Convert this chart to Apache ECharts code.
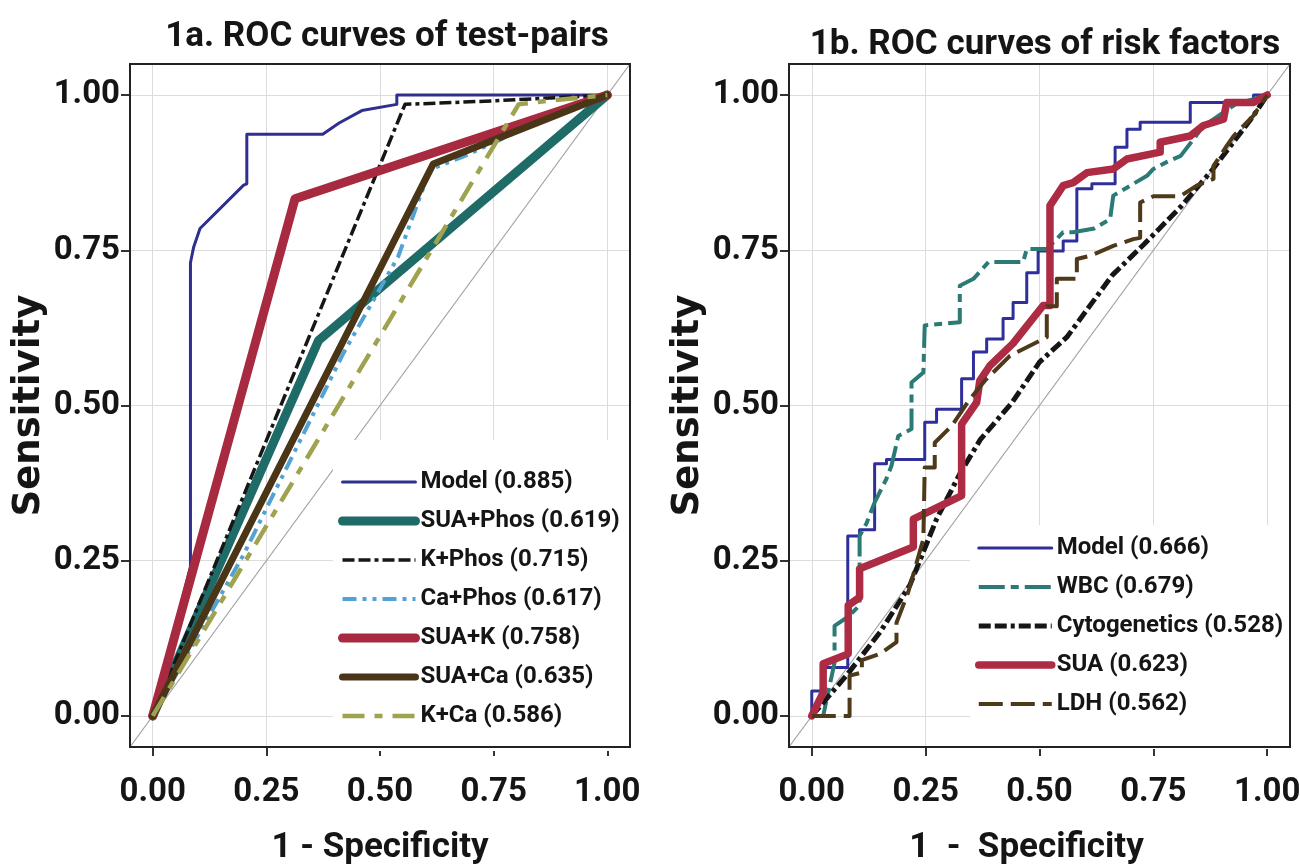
<!DOCTYPE html>
<html>
<head>
<meta charset="utf-8">
<script src="https://cdn.jsdelivr.net/npm/echarts@6/dist/echarts.min.js"></script>
<style>
  html, body { margin: 0; padding: 0; background: #fff; }
  #main { width: 1300px; height: 867px; }
</style>
</head>
<body>
<div id="main"></div>
<script>
// tick positions shared by both panels
const TICKS = [0, 0.25, 0.5, 0.75, 1];

// 1a. test-pairs  ([1 - specificity, sensitivity])
const namesA = ['Model (0.885)', 'SUA+Phos (0.619)', 'K+Phos (0.715)', 'Ca+Phos (0.617)',
  'SUA+K (0.758)', 'SUA+Ca (0.635)', 'K+Ca (0.586)'];
const modelA = [[0,0],[0.083,0.24],[0.083,0.73],[0.09,0.755],[0.104,0.785],[0.2,0.855],[0.207,0.857],
  [0.207,0.937],[0.374,0.937],[0.41,0.955],[0.46,0.975],[0.537,0.985],[0.537,1],[1,1]];
const suaPhosA = [[0,0],[0.365,0.605],[1,1]];
const kPhosA = [[0,0],[0.555,0.985],[0.73,0.99],[1,1]];
const caPhosA = [[0,0],[0.2,0.26],[0.42,0.585],[0.54,0.74],[0.61,0.88],[0.68,0.9],[0.8,0.94],[1,1]];
const suaKA = [[0,0],[0.313,0.833],[1,1]];
const suaCaA = [[0,0],[0.617,0.889],[1,1]];
const kCaA = [[0,0],[0.805,0.985],[0.86,0.99],[1,1]];

// 1b. risk factors
const namesB = ['Model (0.666)', 'WBC (0.679)', 'Cytogenetics (0.528)', 'SUA (0.623)', 'LDH (0.562)'];
const modelB = [[0,0],[0,0.04],[0.025,0.04],[0.025,0.078],[0.079,0.078],[0.079,0.29],[0.105,0.29],[0.105,0.3],
  [0.138,0.3],[0.138,0.406],[0.164,0.406],[0.164,0.413],[0.248,0.413],[0.248,0.473],[0.274,0.473],[0.274,0.494],
  [0.329,0.494],[0.329,0.543],[0.355,0.543],[0.355,0.586],[0.384,0.586],[0.384,0.607],[0.42,0.607],[0.42,0.64],
  [0.442,0.64],[0.442,0.666],[0.472,0.666],[0.472,0.714],[0.497,0.714],[0.497,0.749],[0.552,0.749],[0.552,0.765],
  [0.582,0.765],[0.582,0.849],[0.615,0.849],[0.615,0.857],[0.666,0.857],[0.666,0.916],[0.692,0.916],[0.692,0.945],
  [0.721,0.945],[0.721,0.956],[0.831,0.956],[0.831,0.988],[0.97,0.988],[0.97,1],[1,1]];
const wbcB = [[0,0],[0.025,0],[0.05,0.086],[0.05,0.145],[0.08,0.16],[0.105,0.178],[0.105,0.29],[0.12,0.31],
  [0.138,0.344],[0.164,0.382],[0.175,0.403],[0.19,0.451],[0.219,0.462],[0.219,0.537],[0.245,0.553],[0.248,0.629],
  [0.325,0.634],[0.325,0.693],[0.355,0.704],[0.388,0.731],[0.464,0.731],[0.472,0.752],[0.516,0.752],[0.552,0.779],
  [0.574,0.779],[0.62,0.785],[0.655,0.8],[0.662,0.838],[0.699,0.854],[0.736,0.87],[0.75,0.881],[0.779,0.892],
  [0.81,0.902],[0.86,0.95],[0.93,0.985],[1,1]];
const cytoB = [[0,0],[0.076,0.065],[0.15,0.135],[0.215,0.21],[0.274,0.317],[0.325,0.39],[0.37,0.445],[0.44,0.505],
  [0.5,0.57],[0.56,0.61],[0.66,0.71],[0.73,0.76],[0.81,0.82],[0.88,0.88],[0.97,0.967],[1,1]];
const suaB = [[0,0],[0.025,0.038],[0.025,0.084],[0.08,0.1],[0.08,0.178],[0.105,0.191],[0.105,0.237],[0.223,0.272],
  [0.223,0.317],[0.329,0.355],[0.329,0.47],[0.362,0.505],[0.369,0.54],[0.391,0.564],[0.442,0.6],[0.508,0.661],
  [0.523,0.661],[0.523,0.822],[0.552,0.854],[0.574,0.859],[0.604,0.875],[0.662,0.881],[0.692,0.897],[0.765,0.908],
  [0.765,0.924],[0.831,0.934],[0.86,0.951],[0.904,0.961],[0.911,0.988],[0.97,0.988],[1,1]];
const ldhB = [[0,0],[0.083,0],[0.083,0.065],[0.11,0.07],[0.11,0.09],[0.15,0.1],[0.186,0.119],[0.186,0.15],
  [0.212,0.2],[0.245,0.285],[0.248,0.4],[0.27,0.4],[0.27,0.44],[0.307,0.467],[0.347,0.51],[0.38,0.54],[0.435,0.58],
  [0.516,0.61],[0.516,0.66],[0.538,0.66],[0.538,0.704],[0.582,0.704],[0.582,0.736],[0.611,0.741],[0.662,0.757],
  [0.706,0.768],[0.721,0.77],[0.721,0.827],[0.75,0.837],[0.809,0.837],[0.845,0.854],[0.882,0.865],[0.882,0.886],
  [0.911,0.918],[0.926,0.934],[0.97,0.967],[1,1]];

const DIAG = [[-0.05,-0.05],[1.05,1.05]];

const NARROW = "Roboto, 'DejaVu Sans Condensed', sans-serif";
const WIDE = "'DejaVu Sans', sans-serif";
const INK = '#151515';

const chart = echarts.init(document.getElementById('main'));

function xAxis(i, name, shift) {
  return {
    type: 'value', gridIndex: i, min: -0.05, max: 1.05,
    name: name, nameLocation: 'middle', nameGap: 84,
    nameTextStyle: { fontFamily: NARROW, fontSize: 35, fontWeight: 'bold', color: INK,
      padding: [0, shift || 0, 0, 0] },
    axisLine: { show: false, onZero: false },
    axisTick: { show: true, customValues: TICKS, length: 9, lineStyle: { color: '#333', width: 2 } },
    axisLabel: { customValues: TICKS, formatter: v => v.toFixed(2), margin: 29,
      fontFamily: NARROW, fontSize: 33, fontWeight: 'bold', color: INK },
    splitLine: { show: true, lineStyle: { color: '#dcdcdc', width: 1 } }
  };
}
function yAxis(i) {
  return {
    type: 'value', gridIndex: i, min: -0.05, max: 1.05,
    name: 'Sensitivity', nameLocation: 'middle', nameGap: 82,
    nameTextStyle: { fontFamily: WIDE, fontSize: 37, fontWeight: 'bold', color: INK },
    axisLine: { show: false, onZero: false },
    axisTick: { show: true, customValues: TICKS, length: 9, lineStyle: { color: '#333', width: 2 } },
    axisLabel: { customValues: TICKS, formatter: v => v.toFixed(2), margin: 10,
      fontFamily: NARROW, fontSize: 33, fontWeight: 'bold', color: INK },
    splitLine: { show: true, lineStyle: { color: '#dcdcdc', width: 1 } }
  };
}

function curve(name, data, idx, color, width, type, z) {
  return {
    type: 'line', name: name, data: data, xAxisIndex: idx, yAxisIndex: idx,
    symbol: 'none', z: z || 3, animation: false,
    lineStyle: { color: color, width: width, type: type || 'solid',
      cap: type ? 'butt' : 'round', join: 'round' }
  };
}
function diag(idx) {
  return {
    type: 'line', data: DIAG, xAxisIndex: idx, yAxisIndex: idx, symbol: 'none', silent: true,
    z: 2, animation: false, lineStyle: { color: '#a0a0a0', width: 1.2 }
  };
}

const legendBase = {
  orient: 'vertical', itemWidth: 73, itemHeight: 14, backgroundColor: '#fff',
  textStyle: { fontFamily: NARROW, fontSize: 24, fontWeight: 'bold', color: INK, lineHeight: 30 },
  itemStyle: { opacity: 0 }, lineStyle: { width: 'inherit' }, selectedMode: false
};

const option = {
  backgroundColor: '#fff',
  animation: false,
  title: [
    { text: '1a. ROC curves of test-pairs', left: 382, top: 15, textAlign: 'center',
      textStyle: { fontFamily: NARROW, fontSize: 35, fontWeight: 'bold', color: INK } },
    { text: '1b. ROC curves of risk factors', left: 1040, top: 23, textAlign: 'center',
      textStyle: { fontFamily: NARROW, fontSize: 35, fontWeight: 'bold', color: INK } }
  ],
  grid: [
    { left: 130, top: 64, width: 500, height: 683, show: true, borderColor: '#222', borderWidth: 2,
      z: 10, outerBoundsMode: 'none', containLabel: false },
    { left: 789, top: 64, width: 501, height: 683, show: true, borderColor: '#222', borderWidth: 2,
      z: 10, outerBoundsMode: 'none', containLabel: false }
  ],
  xAxis: [xAxis(0, '1 - Specificity'), xAxis(1, '1  -  Specificity', 26)],
  yAxis: [yAxis(0), yAxis(1)],
  legend: [
    Object.assign({}, legendBase, { data: namesA, left: 333, top: 440, itemGap: 9, padding: [27, 20, 20, 5] }),
    Object.assign({}, legendBase, { data: namesB, left: 970, top: 525, itemGap: 9, padding: [8, 20, 30, 5] })
  ],
  series: [
    diag(0), diag(1),
    curve(namesA[0], modelA, 0, '#2e2f8e', 3),
    curve(namesA[1], suaPhosA, 0, '#1f6b68', 9),
    curve(namesA[2], kPhosA, 0, '#161616', 3.5, [12, 4, 12, 4, 4, 4]),
    curve(namesA[3], caPhosA, 0, '#52a3d3', 4, [14, 6, 4, 6, 4, 6]),
    curve(namesA[4], suaKA, 0, '#a72a40', 9),
    curve(namesA[5], suaCaA, 0, '#4a3517', 7),
    curve(namesA[6], kCaA, 0, '#9fa24f', 4.5, [22, 10, 8, 10]),
    curve(namesB[0], modelB, 1, '#2e2f9a', 3),
    curve(namesB[1], wbcB, 1, '#2c7a76', 4, [26, 6, 8, 6]),
    curve(namesB[2], cytoB, 1, '#161616', 5, [12, 4, 12, 4, 4, 4]),
    curve(namesB[3], suaB, 1, '#ad2b43', 7.5),
    curve(namesB[4], ldhB, 1, '#4e3a1b', 4, [24, 8])
  ]
};

chart.setOption(option);
</script>
</body>
</html>
